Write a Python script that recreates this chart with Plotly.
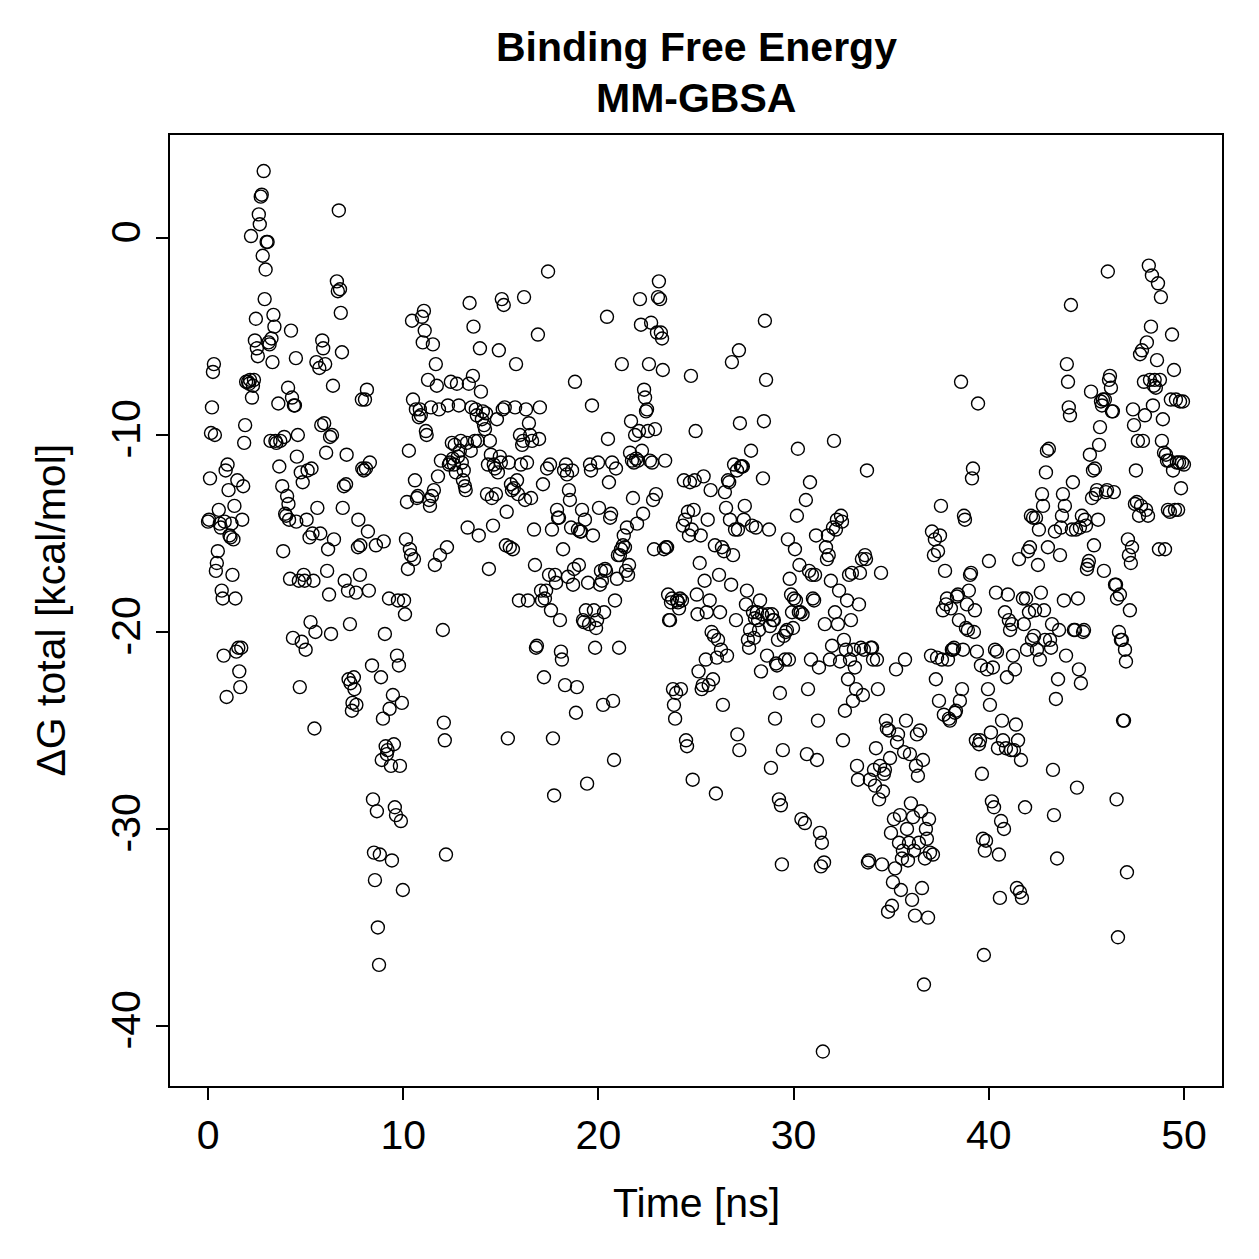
import plotly.graph_objects as go

# ---- data (time in ns, dG total in kcal/mol) ----
time_ns = [
    0.0,0.05,0.1,0.15,0.2,0.25,0.3,0.35,0.4,0.45,0.5,0.55,0.6,0.65,0.7,0.75,0.8,0.85,0.9,0.95,
    1.0,1.05,1.1,1.15,1.2,1.25,1.3,1.35,1.4,1.45,1.5,1.55,1.6,1.65,1.7,1.75,1.8,1.85,1.9,1.95,
    2.05,2.1,2.15,2.2,2.25,2.3,2.35,2.4,2.45,2.5,2.55,2.6,2.65,2.7,2.75,2.8,2.85,2.9,2.95,3.0,3.05,3.1,3.15,3.2,3.25,3.3,3.35,3.4,3.45,3.5,
    3.6,3.65,3.7,3.8,3.85,3.9,3.95,4.0,4.05,4.1,4.12,4.15,4.2,4.25,4.3,4.35,4.4,4.45,4.5,4.52,4.55,4.6,4.65,4.7,4.75,4.8,4.85,4.9,4.95,5.0,
    5.05,5.1,5.2,5.25,5.3,5.35,5.4,5.45,5.5,5.55,5.6,5.7,5.75,5.8,5.85,5.9,5.95,6.0,6.05,6.1,6.15,6.2,6.25,6.3,6.35,6.4,6.45,
    6.6,6.65,6.7,6.76,6.8,6.86,6.9,6.96,7.0,7.07,7.1,7.17,7.2,7.27,7.3,7.37,7.4,7.47,7.5,7.58,7.6,7.68,7.7,7.78,7.8,7.88,7.9,7.98,
    8.04,8.09,8.14,8.19,8.24,8.29,8.4,8.45,8.5,8.55,8.6,8.65,8.7,8.76,8.8,8.86,8.9,8.96,9.0,9.06,9.1,9.16,9.2,9.27,9.3,9.37,9.42,9.47,
    9.52,9.57,9.63,9.68,9.73,9.78,9.83,9.88,9.93,9.98,10.04,10.09,10.14,10.19,10.24,10.29,10.34,10.4,10.45,10.5,10.55,10.6,10.65,10.7,10.75,10.8,10.85,10.9,10.96,11.0,
    11.06,11.1,11.16,11.2,11.27,11.32,11.37,11.42,11.47,11.52,11.57,11.62,11.67,11.72,11.78,11.83,11.88,11.93,12.03,12.08,12.13,12.19,12.24,12.29,12.34,12.39,12.44,12.49,
    12.54,12.6,12.64,12.7,12.75,12.8,12.85,12.9,12.95,13.0,13.06,13.1,13.16,13.2,13.26,13.3,13.36,13.4,13.46,13.5,13.57,13.6,13.67,13.72,13.77,13.82,13.87,13.93,13.98,
    14.03,14.08,14.14,14.19,14.24,14.29,14.34,14.39,14.44,14.49,14.54,14.6,14.64,14.7,14.75,14.8,14.85,14.9,14.95,15.0,15.05,15.1,15.15,15.2,15.26,15.3,15.36,15.41,15.46,
    15.52,15.57,15.62,15.67,15.73,15.78,15.83,15.88,15.93,15.98,16.03,16.09,16.14,16.19,16.24,16.29,16.34,16.39,16.44,16.5,16.55,16.6,16.7,16.75,16.8,16.85,16.9,16.96,17.0,
    17.06,17.11,17.16,17.21,17.26,17.32,17.37,17.42,17.47,17.52,17.57,17.62,17.67,17.73,17.78,17.83,17.88,17.93,17.98,18.03,18.08,18.13,18.19,18.24,18.29,18.34,18.39,18.44,18.49,
    18.54,18.6,18.65,18.7,18.75,18.8,18.85,18.9,18.95,19.0,19.06,19.11,19.16,19.21,19.26,19.31,19.36,19.42,19.47,19.52,19.57,19.62,19.67,19.72,19.77,19.83,19.88,19.93,19.98,
    20.03,20.08,20.13,20.18,20.24,20.29,20.34,20.39,20.44,20.49,20.54,20.6,20.65,20.7,20.75,20.8,20.85,20.9,20.95,21.0,21.06,21.1,21.16,21.2,21.26,21.3,21.36,21.41,21.46,
    21.52,21.57,21.62,21.67,21.72,21.77,21.82,21.88,21.93,21.98,22.03,22.08,22.13,22.18,22.23,22.29,22.34,22.39,22.44,22.49,22.54,22.59,22.64,22.7,22.75,22.8,22.85,22.9,22.95,23.0,
    23.05,23.1,23.16,23.2,23.26,23.3,23.36,23.42,23.46,23.52,23.57,23.62,23.67,23.72,23.77,23.82,23.87,23.93,23.98,24.03,24.08,24.13,24.18,24.23,24.28,24.33,24.38,24.44,24.49,
    24.54,24.59,24.64,24.69,24.74,24.78,24.83,24.88,24.93,24.98,25.04,25.08,25.13,25.19,25.24,25.29,25.34,25.39,25.44,25.5,25.55,25.6,25.65,25.7,25.75,25.8,25.87,25.92,25.97,
    26.02,26.07,26.13,26.18,26.23,26.28,26.33,26.38,26.43,26.48,26.54,26.59,26.64,26.7,26.74,26.8,26.84,26.9,26.95,27.0,27.05,27.1,27.12,27.15,27.2,27.22,27.25,27.3,27.35,27.4,27.45,27.5,
    27.56,27.61,27.66,27.72,27.77,27.82,27.87,27.92,27.97,28.02,28.07,28.12,28.18,28.23,28.28,28.33,28.38,28.43,28.48,28.53,28.59,28.64,28.69,28.74,28.79,28.84,28.89,28.94,28.99,
    29.05,29.1,29.15,29.2,29.25,29.3,29.35,29.4,29.45,29.5,29.56,29.6,29.66,29.71,29.76,29.8,29.87,29.92,29.97,30.02,30.07,30.12,30.17,30.22,30.27,30.3,30.36,30.4,30.46,
    30.58,30.63,30.68,30.74,30.79,30.84,30.89,30.94,30.99,31.05,31.1,31.15,31.2,31.25,31.3,31.35,31.4,31.45,31.5,31.56,31.6,31.66,31.71,31.76,31.8,31.86,31.91,31.97,32.02,
    32.07,32.12,32.17,32.22,32.27,32.33,32.38,32.43,32.48,32.53,32.58,32.63,32.68,32.74,32.79,32.84,32.89,32.94,32.99,33.04,33.09,33.14,33.2,33.25,33.3,33.35,33.4,33.45,33.5,
    33.55,33.6,33.66,33.71,33.76,33.81,33.86,33.91,33.96,34.02,34.07,34.12,34.17,34.22,34.27,34.32,34.38,34.43,34.48,34.53,34.58,34.63,34.68,34.73,34.78,34.84,34.89,34.94,34.99,35.04,
    35.09,35.14,35.2,35.25,35.3,35.35,35.4,35.45,35.5,35.55,35.6,35.66,35.71,35.76,35.81,35.86,35.91,35.96,36.01,36.07,36.12,36.17,36.22,36.27,36.32,36.37,36.42,36.48,36.53,
    36.58,36.63,36.68,36.73,36.78,36.83,36.89,36.94,36.99,37.04,37.09,37.14,37.19,37.24,37.29,37.35,37.4,37.45,37.5,37.55,37.6,37.65,37.7,37.76,37.81,37.86,37.91,37.96,38.01,
    38.06,38.11,38.17,38.22,38.27,38.32,38.37,38.42,38.47,38.52,38.58,38.63,38.68,38.73,38.78,38.83,38.88,38.93,38.98,39.04,39.09,39.14,39.19,39.24,39.29,39.34,39.39,39.45,39.5,
    39.55,39.6,39.65,39.7,39.75,39.8,39.86,39.91,39.96,40.01,40.06,40.11,40.16,40.21,40.27,40.32,40.37,40.42,40.47,40.52,40.57,40.63,40.68,40.73,40.78,40.83,40.88,40.93,40.98,
    41.03,41.09,41.14,41.19,41.24,41.29,41.34,41.39,41.44,41.5,41.55,41.6,41.65,41.7,41.75,41.8,41.86,41.91,41.96,42.01,42.06,42.11,42.16,42.21,42.27,42.32,42.37,42.42,42.47,
    42.52,42.57,42.62,42.67,42.73,42.78,42.83,42.88,42.93,42.98,43.03,43.08,43.14,43.19,43.24,43.29,43.34,43.39,43.44,43.5,43.55,43.6,43.65,43.7,43.75,43.8,43.85,43.9,43.96,
    44.0,44.06,44.1,44.16,44.21,44.26,44.31,44.36,44.42,44.47,44.52,44.57,44.62,44.67,44.72,44.77,44.83,44.88,44.93,44.98,45.03,45.08,45.13,45.18,45.24,45.29,45.34,45.39,45.44,
    45.49,45.54,45.6,45.65,45.7,45.75,45.8,45.85,45.9,45.95,46.0,46.06,46.1,46.16,46.21,46.26,46.31,46.36,46.41,46.47,46.52,46.55,46.57,46.62,46.67,46.72,46.77,46.82,46.88,46.93,46.98,
    47.03,47.08,47.13,47.18,47.23,47.28,47.34,47.39,47.44,47.49,47.54,47.59,47.64,47.7,47.75,47.8,47.85,47.9,47.95,48.0,48.06,48.1,48.16,48.2,48.26,48.31,48.36,48.41,48.46,
    48.5,48.56,48.62,48.67,48.72,48.77,48.82,48.87,48.92,48.98,49.03,49.08,49.13,49.18,49.23,49.28,49.33,49.39,49.44,49.49,49.54,49.59,49.64,49.7,49.75,49.8,49.85,49.9,49.95,50.0,
]

dG_total = [
    -14.4,-14.3,-12.2,-9.9,-8.6,-6.8,-6.4,-10.0,-16.9,-16.5,-15.9,-13.8,-14.5,-14.7,-17.9,-18.3,-21.2,-14.4,-11.8,-23.3,
    -11.5,-12.8,-15.1,-15.2,-14.5,-17.1,-15.3,-13.6,-18.3,-21.0,-12.3,-20.8,-22.0,-22.8,-20.8,-14.3,-12.6,-10.4,-9.5,-7.3,
    -7.3,-7.4,-7.2,0.1,-8.1,-7.5,-7.2,-5.2,-4.1,-5.6,-6.0,1.2,0.7,2.1,2.2,-0.9,3.4,-3.1,-1.6,-0.2,-0.2,-5.3,-5.4,-10.3,-5.1,-6.3,-3.9,-4.5,-10.3,-10.4,
    -8.4,-11.6,-10.3,-12.6,-15.9,-10.1,-14.0,-14.1,-13.1,-7.6,-13.5,-14.3,-17.3,-4.7,-8.1,-20.3,-8.5,-8.5,-6.1,-14.4,-11.1,-10.0,-17.4,-22.8,-11.9,-20.5,-12.4,-17.1,-17.4,-20.9,
    -14.3,-11.8,-15.2,-19.5,-11.7,-15.0,-17.4,-24.9,-20.0,-6.3,-13.7,-6.6,-15.0,-9.5,-5.2,-5.6,-9.4,-6.4,-10.9,-16.9,-15.8,-18.1,-10.1,-20.1,-10.0,-7.5,-15.3,
    -2.2,-2.7,1.4,-2.6,-3.8,-5.8,-13.7,-12.6,-17.4,-12.5,-11.0,-17.9,-22.4,-19.6,-22.6,-24.0,-23.6,-22.3,-22.9,-18.0,-23.7,-15.7,-14.3,-17.1,-15.6,-8.2,-11.7,-11.8,
    -8.2,-11.7,-7.7,-14.9,-17.9,-11.4,-21.7,-28.5,-31.2,-32.6,-15.6,-29.1,-35.0,-36.9,-31.3,-22.3,-26.5,-24.4,-15.4,-20.1,-25.8,-26.2,-26.0,-18.3,-23.9,-26.8,-31.6,-23.2,
    -25.7,-28.9,-29.3,-21.2,-18.4,-21.7,-26.8,-29.6,-23.6,-33.1,-18.4,-19.1,-15.3,-13.4,-16.8,-10.8,-15.8,-16.1,-4.2,-8.2,-16.3,-12.3,-8.7,-13.2,-13.1,-9.1,-8.7,-9.0,-4.0,-5.3,
    -3.7,-4.7,-9.8,-10.0,-7.2,-13.3,-13.6,-8.6,-13.1,-5.4,-12.8,-16.6,-6.4,-7.5,-12.1,-8.7,-16.1,-11.3,-19.9,-24.6,-25.5,-31.3,-15.7,-8.5,-11.5,-11.4,-7.3,-10.4,
    -11.2,-11.5,-10.5,-11.9,-7.4,-11.1,-8.5,-10.8,-10.3,-11.4,-12.3,-11.8,-12.6,-12.8,-10.4,-14.7,-7.4,-3.3,-10.8,-8.6,-7.0,-4.5,-10.3,-8.7,-9.0,-10.3,-15.1,-5.6,-7.8,
    -9.2,-8.8,-9.5,-9.7,-8.9,-13.0,-11.5,-16.8,-10.3,-11.0,-13.2,-14.6,-11.5,-11.7,-13.0,-9.2,-11.9,-5.7,-11.1,-11.4,-3.1,-8.7,-3.4,-8.6,-15.6,-13.9,-25.4,-11.4,-15.7,
    -12.5,-12.8,-15.8,-12.7,-8.6,-6.4,-12.3,-13.0,-18.4,-10.0,-11.5,-10.5,-10.3,-3.0,-13.3,-8.7,-11.4,-18.4,-9.4,-10.0,-13.2,-10.3,-14.8,-16.6,-20.8,-20.7,-4.9,-10.2,-8.6,
    -17.9,-18.4,-12.5,-22.3,-18.3,-17.9,-11.7,-1.7,-17.1,-11.5,-18.9,-14.8,-25.4,-28.3,-17.1,-17.5,-13.8,-14.2,-14.2,-19.4,-21.0,-21.4,-15.8,-11.8,-22.7,-11.5,-12.0,-17.2,-12.8,
    -13.3,-14.7,-11.8,-17.6,-16.8,-7.3,-24.1,-22.8,-14.8,-16.6,-14.9,-14.9,-13.8,-19.4,-19.5,-14.3,-18.9,-27.7,-17.5,-19.6,-11.5,-11.8,-8.5,-15.1,-18.9,-20.8,-19.8,-19.4,-11.4,
    -13.7,-17.6,-16.9,-17.4,-23.7,-19.0,-16.8,-16.9,-4.0,-10.2,-12.4,-14.2,-14.0,-11.4,-23.5,-26.5,-18.4,-11.7,-17.3,-16.1,-20.8,-16.1,-15.8,-6.4,-15.6,-15.1,-15.7,-16.9,-14.7,
    -17.1,-16.6,-10.9,-9.3,-11.3,-13.2,-11.4,-10.0,-11.2,-14.5,-11.3,-9.8,-3.1,-4.4,-10.8,-14.0,-7.7,-8.1,-8.8,-8.7,-9.8,-6.4,-11.3,-4.3,-11.4,-13.3,-15.8,-9.7,-13.0,-4.8,
    -3.0,-2.2,-3.1,-4.8,-5.1,-6.7,-15.8,-11.3,-15.7,-15.7,-18.1,-19.4,-19.4,-18.5,-18.3,-22.9,-23.7,-24.4,-23.1,-18.4,-18.5,-18.8,-18.3,-22.9,-18.4,-14.6,-12.3,-14.3,-25.5,
    -25.8,-13.9,-15.1,-12.4,-7.0,-14.8,-27.5,-13.8,-12.3,-9.8,-18.1,-19.1,-22.0,-16.5,-15.1,-22.9,-22.7,-12.1,-17.4,-21.4,-19.0,-14.3,-22.7,-18.4,-12.8,-20.0,-22.4,-20.2,-15.6,
    -28.2,-21.3,-20.4,-17.1,-19.0,-20.9,-15.7,-23.7,-15.9,-12.9,-13.7,-21.2,-12.3,-12.4,-14.3,-17.6,-6.3,-16.1,-11.5,-14.8,-19.4,-11.8,-25.2,-14.8,-5.7,-26.0,-9.4,-11.6,-11.6,-11.6,-14.3,-13.6,
    -18.6,-17.9,-20.4,-20.8,-19.9,-10.8,-14.6,-19.0,-20.3,-19.3,-14.7,-19.0,-19.4,-19.9,-18.4,-22.0,-19.1,-12.2,-9.3,-4.2,-7.2,-21.2,-19.1,-14.8,-19.7,-26.9,-19.1,-19.4,-19.4,
    -24.4,-21.6,-21.7,-20.4,-28.5,-23.1,-28.8,-31.8,-26.0,-20.2,-21.4,-20.0,-19.9,-15.3,-21.4,-17.3,-18.1,-19.0,-19.8,-18.3,-15.8,-18.4,-14.1,-10.7,-19.0,-16.6,-19.0,-29.5,-19.1,
    -29.7,-13.3,-26.2,-22.9,-16.9,-12.4,-21.4,-17.1,-18.3,-18.4,-17.1,-15.1,-26.5,-24.5,-21.8,-30.2,-31.9,-30.7,-41.3,-31.7,-19.6,-15.7,-16.3,-15.1,-16.1,-21.4,-17.4,-20.7,-14.7,
    -10.3,-19.0,-14.8,-14.3,-19.6,-17.9,-21.5,-14.1,-14.4,-25.5,-20.4,-24.0,-20.9,-18.4,-22.4,-17.1,-21.4,-19.4,-17.0,-23.5,-20.9,-21.8,-22.9,-26.8,-27.5,-18.6,-17.0,-20.8,-16.3,
    -23.2,-20.9,-16.1,-16.3,-11.8,-31.7,-31.6,-27.5,-20.8,-20.8,-21.4,-27.0,-27.8,-25.9,-21.4,-22.9,-28.5,-26.8,-17.0,-31.8,-28.1,-27.2,-27.0,-24.5,-24.9,-34.2,-25.0,-26.4,-30.2,-33.9,
    -32.7,-29.5,-32.0,-21.9,-25.6,-25.2,-30.7,-29.3,-33.1,-31.5,-31.1,-26.1,-21.4,-24.5,-30.0,-31.6,-30.7,-26.2,-28.7,-33.6,-29.4,-31.1,-34.4,-26.8,-25.2,-27.3,-30.7,-25.0,-29.1,
    -33.0,-26.5,-37.9,-31.5,-30.0,-30.5,-34.5,-29.5,-31.2,-21.2,-14.9,-31.3,-16.1,-15.3,-22.4,-21.3,-15.9,-23.5,-15.1,-13.6,-21.4,-18.9,-24.2,-16.9,-18.6,-18.3,-21.4,-24.4,-24.5,
    -18.8,-20.9,-20.9,-20.8,-24.1,-24.0,-18.2,-18.1,-19.4,-23.5,-7.3,-22.9,-20.9,-14.1,-14.3,-19.8,-18.6,-19.9,-17.9,-17.1,-17.0,-12.2,-11.7,-20.0,-18.9,-25.5,-21.0,-8.4,-25.7,
    -25.5,-21.7,-27.2,-30.5,-36.4,-31.1,-30.6,-21.9,-22.9,-16.4,-23.7,-25.1,-28.6,-21.8,-28.9,-20.9,-18.0,-21.0,-25.9,-31.3,-33.5,-29.6,-24.5,-25.5,-30.0,-19.0,-25.9,-22.3,-18.1,
    -19.4,-19.9,-26.0,-19.6,-21.2,-26.0,-21.9,-24.7,-33.0,-25.5,-16.3,-33.2,-26.5,-33.5,-18.3,-19.6,-28.9,-18.3,-20.9,-15.9,-19.0,-15.7,-14.1,-20.4,-14.2,-20.2,-18.9,-14.2,-20.9,
    -16.6,-14.8,-21.4,-18.0,-13.0,-13.6,-18.9,-20.4,-11.9,-10.8,-15.7,-10.7,-20.4,-20.8,-19.6,-27.0,-29.3,-14.9,-23.4,-31.5,-22.4,-19.9,-16.1,-14.7,-14.1,-13.0,-18.4,-13.6,-21.2,
    -6.4,-7.3,-8.6,-9.0,-3.4,-14.8,-12.4,-19.9,-19.9,-14.8,-27.9,-18.3,-21.9,-14.7,-22.6,-14.1,-20.0,-19.9,-14.3,-14.6,-16.8,-16.6,-16.4,-11.0,-7.8,-13.2,-11.8,-15.6,-11.7,
    -13.0,-12.8,-14.3,-10.5,-9.6,-8.3,-8.5,-8.2,-16.9,-8.2,-12.9,-12.8,-1.7,-7.2,-7.0,-7.6,-8.8,-8.8,-12.9,-17.6,-17.6,-28.5,-18.3,-35.5,-20.0,-18.1,-20.4,-20.4,-24.5,-24.5,-20.9,
    -21.5,-32.2,-15.3,-16.1,-18.9,-16.5,-15.7,-8.7,-9.5,-13.5,-11.8,-13.4,-10.3,-14.1,-5.9,-13.6,-5.7,-10.3,-7.3,-9.0,-13.8,-5.3,-14.1,-1.4,-7.2,-4.5,-1.9,-8.5,-7.5,
    -7.2,-7.6,-6.2,-2.3,-15.8,-7.2,-3.0,-10.3,-9.2,-10.9,-15.8,-11.0,-11.3,-13.8,-11.3,-13.9,-8.2,-4.9,-11.8,-6.7,-13.8,-8.2,-11.4,-13.8,-11.4,-8.3,-12.7,-11.4,-8.3,-11.5,
]

x_ticks = [0, 10, 20, 30, 40, 50]
y_ticks = [-40, -30, -20, -10, 0]

title_line1 = "Binding Free Energy"
title_line2 = "MM-GBSA"
x_label = "Time [ns]"
y_label = "ΔG total [kcal/mol]"

n = min(len(time_ns), len(dG_total))
FONT = "Liberation Sans, Arial, Helvetica, sans-serif"

fig = go.Figure()
fig.add_trace(go.Scatter(
    x=time_ns[:n], y=dG_total[:n], mode="markers",
    marker=dict(symbol="circle-open", size=13, color="black",
                line=dict(color="black", width=1.4)),
    hoverinfo="x+y", showlegend=False,
))

axis_common = dict(
    showline=True, mirror=True, linecolor="black", linewidth=2,
    ticks="outside", ticklen=12, tickwidth=2, tickcolor="black",
    showgrid=False, zeroline=False,
    tickfont=dict(family=FONT, size=41, color="black"),
)

fig.update_layout(
    width=1259, height=1259,
    margin=dict(l=170, r=37, t=135, b=173),
    paper_bgcolor="white", plot_bgcolor="white",
    xaxis=dict(range=[-1.95, 51.95], tickmode="array", tickvals=x_ticks,
               ticktext=[str(v) for v in x_ticks], **axis_common),
    yaxis=dict(range=[-43.05, 5.23], tickmode="array", tickvals=y_ticks,
               ticktext=[str(v) for v in y_ticks], tickangle=-90, **axis_common),
    annotations=[
        dict(text="<b>" + title_line1 + "</b>", xref="paper", yref="paper",
             x=0.5, y=1.0925, xanchor="center", yanchor="middle", showarrow=False,
             font=dict(family=FONT, size=41, color="black")),
        dict(text="<b>" + title_line2 + "</b>", xref="paper", yref="paper",
             x=0.5, y=1.0389, xanchor="center", yanchor="middle", showarrow=False,
             font=dict(family=FONT, size=41, color="black")),
        dict(text=x_label, xref="paper", yref="paper",
             x=0.5, y=-0.123, xanchor="center", yanchor="middle", showarrow=False,
             font=dict(family=FONT, size=41, color="black")),
        dict(text=y_label, xref="paper", yref="paper",
             x=-0.114, y=0.5, xanchor="center", yanchor="middle", showarrow=False,
             textangle=-90, font=dict(family=FONT, size=41, color="black")),
    ],
)

fig.write_html("out.html")
